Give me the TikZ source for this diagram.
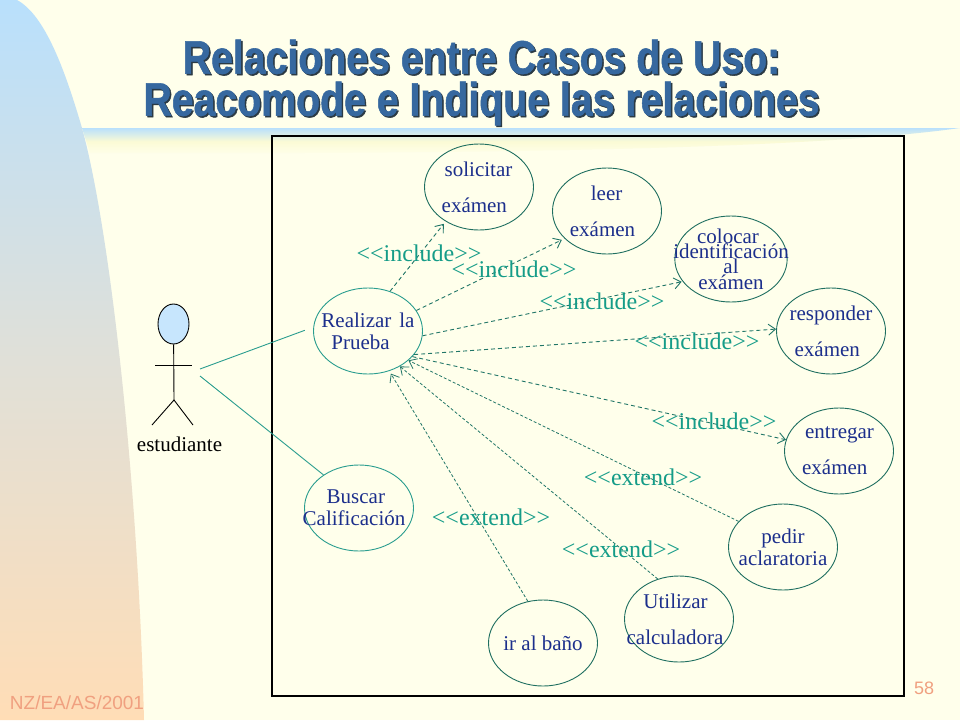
\documentclass[tikz,border=0pt]{standalone}
\usepackage{xcolor}
\usepackage{fontspec}
\setmainfont{Liberation Serif}
\newfontfamily\sansfont[BoldFeatures={FakeBold=1.2}]{Liberation Sans}
\usepackage{tikz}
\usetikzlibrary{shapes.geometric, arrows.meta}

\definecolor{paper}{HTML}{FFFFEB}
\definecolor{slideblue}{HTML}{B9E0FC}
\definecolor{slidemid}{HTML}{E0E0D8}
\definecolor{slidepeach}{HTML}{FFDDB6}
\definecolor{slidetitle}{HTML}{36689F}
\definecolor{slideshadow}{HTML}{2B3A44}
\definecolor{bandmid}{HTML}{FBFBD5}
\definecolor{casetext}{HTML}{1C2F8C}
\definecolor{caseline}{HTML}{1F6F60}
\definecolor{mainline}{HTML}{2A9D8F}
\definecolor{stereo}{HTML}{159C88}
\definecolor{footer}{HTML}{F0A080}

\newcommand{\incl}{{<}{<}include{>}{>}}
\newcommand{\extd}{{<}{<}extend{>}{>}}

\begin{document}
\begin{tikzpicture}[
    x=1pt, y=-1pt,
    usecase/.style={ellipse, draw=caseline, fill=none, line width=0.9pt, minimum width=109pt, minimum height=86pt, inner sep=-18pt, align=left, text=casetext, font=\fontsize{21}{22}\selectfont},
    maincase/.style={usecase, draw=mainline},
    stereotype/.style={text=stereo, inner sep=0pt, font=\fontsize{24}{26}\selectfont},
    relation/.style={-{Straight Barb[length=7pt,width=11pt]}, draw=caseline!85!mainline, dash pattern=on 4pt off 3pt, line width=0.9pt},
    extendrel/.style={relation, dash pattern=on 3pt off 2pt, line width=0.8pt},
    assoc/.style={draw=mainline, line width=0.9pt},
    limb/.style={draw=black, line width=0.9pt},
    titletext/.style={align=center, inner sep=0pt, transform shape, xscale=0.835, font=\sansfont\bfseries\fontsize{47}{42}\selectfont}
]
\useasboundingbox (0,0) rectangle (960,720);
\fill[paper] (0,0) rectangle (960,720);

% Slide background
\path[top color=slideblue, bottom color=paper, middle color=bandmid]
    (82,128) -- (960,128) .. controls (860,142) and (650,155) .. (90,153) -- cycle;
\path[top color=slideblue, bottom color=slidepeach, middle color=slidemid]
    (0,0) -- (17,0) .. controls (45,15) and (65,70) .. (82,128)
    .. controls (110,230) and (138,480) .. (144,720) -- (0,720) -- cycle;

% Title
\node[titletext, text=slideshadow] (titleshadow) at (483,84) {Relaciones entre Casos de Uso:\\Reacomode e Indique las relaciones};
\node[titletext, text=slidetitle] (title) at (481.5,82.5) {Relaciones entre Casos de Uso:\\Reacomode e Indique las relaciones};

% System box
\node[draw=black, line width=1.2pt, minimum width=632pt, minimum height=560pt, inner sep=0pt] (system) at (588,416) {};

% Actor
\node[ellipse, draw=black, fill=slideblue!80!white, minimum width=31pt, minimum height=40pt, inner sep=0pt, line width=0.9pt] (head) at (173.5,324) {};
\coordinate (hip) at (174,400);
\coordinate (lefthand) at (155,365);
\coordinate (righthand) at (192,365);
\coordinate (leftfoot) at (152,425);
\coordinate (rightfoot) at (193,425);
\draw[limb] (head) -- (hip);
\draw[limb] (lefthand) -- (righthand);
\draw[limb] (leftfoot) -- (hip) -- (rightfoot);
\node[text=black, inner sep=0pt, font=\fontsize{21}{22}\selectfont] (actor) at (179.5,444) {estudiante};
\coordinate (actorup) at (200,369);
\coordinate (actordown) at (200,376);

% Use cases
\node[maincase] (realizar) at (368,331) {Realizar\hspace{8pt}la\\\hspace*{10pt}Prueba};
\node[maincase] (buscar) at (359,508) {\hspace*{24pt}Buscar\\Calificación\hspace*{10pt}};
\node[usecase] (solicitar) at (479,187) {\hspace*{3pt}solicitar\hspace*{4pt}\\[14pt]exámen};
\node[usecase] (leer) at (607,211) {\hspace*{21pt}leer\\[14pt]exámen\hspace*{9pt}};
\node[usecase, align=center] (colocar) at (731,259) {colocar\hspace*{6pt}\\[-7pt]identificación\\[-7pt]al\\[-6pt]exámen};
\node[usecase] (responder) at (831,331) {responder\\[14pt]\hspace*{5pt}exámen};
\node[usecase] (entregar) at (839,451) {\hspace*{3pt}entregar\hspace*{2pt}\\[14pt]exámen};
\node[usecase, align=center] (pedir) at (783,547) {pedir\\aclaratoria};
\node[usecase, align=center] (utilizar) at (679,619) {Utilizar\hspace*{7pt}\\[14pt]calculadora\hspace*{8pt}};
\node[usecase, align=center] (bano) at (543,643) {ir al baño};

% Associations
\draw[assoc, shorten >=9pt] (actorup) -- (realizar.176);
\draw[assoc] (actordown) -- (buscar.137);

% Includes
\draw[relation, shorten >=3pt] (realizar.61) -- (solicitar.226);
\draw[relation, shorten >=3pt] (realizar.23) -- (leer.213);
\draw[relation, shorten >=1pt] (realizar.-5) -- (colocar.205);
\draw[relation] (realizar.-27) -- (responder.178);
\draw[relation] (realizar.-30) -- (entregar.168);

% Extends
\draw[extendrel] (pedir.150) -- (realizar.-36);
\draw[extendrel] (utilizar.118) -- (realizar.-48);
\draw[extendrel, shorten >=3pt] (bano.110) -- (realizar.-62);

% Stereotypes
\node[stereotype] (incl1) at (419,253) {\incl};
\node[stereotype] (incl2) at (514,269) {\incl};
\node[stereotype] (incl3) at (602,301) {\incl};
\node[stereotype] (incl4) at (697,341) {\incl};
\node[stereotype] (incl5) at (714,421) {\incl};
\node[stereotype] (ext1) at (643,477) {\extd};
\node[stereotype] (ext2) at (491,517) {\extd};
\node[stereotype] (ext3) at (621,549) {\extd};

% Footer
\node[text=footer, inner sep=0pt, font=\sansfont\fontsize{19}{20}\selectfont] (author) at (77,703) {NZ/EA/AS/2001};
\node[text=footer, inner sep=0pt, font=\sansfont\fontsize{18}{20}\selectfont] (page) at (924,688) {58};

\end{tikzpicture}
\end{document}
